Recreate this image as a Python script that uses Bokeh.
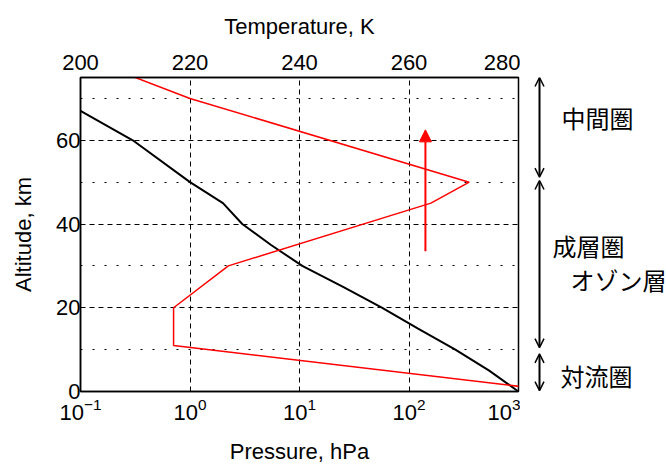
from bokeh.plotting import figure
from bokeh.layouts import row
from bokeh.models import (Range1d, LinearScale, LinearAxis, FixedTicker, Label,
                          Arrow, NormalHead, OpenHead)
from bokeh.embed import file_html
from bokeh.resources import INLINE

# ---- data ----
# pressure profile (black): altitude km vs pressure hPa
p_alt = [0, 5, 10, 15, 20, 25, 30, 35, 40, 45, 50, 60, 67]
p_hpa = [1000, 540, 265, 121, 57, 25, 10.6, 5.5, 3.0, 2.0, 1.0, 0.3, 0.1]
# temperature profile (red): altitude km vs temperature K
t_alt = [0, 11, 20, 30, 45, 50, 70, 80]
t_k = [288, 217, 217, 227, 264, 271, 220, 200]

x_ticks = [0.1, 1, 10, 100, 1000]
t_ticks = [200, 220, 240, 260, 280]
y_ticks = [0, 20, 40, 60]
y_minor = [10, 30, 50, 70]

layers = ["中間圏", "成層圏", "対流圏"]
layer_ranges = [(51.2, 75.0), (10.5, 50.4), (0.2, 9.0)]
layer_label_alt = [65.4, 34.8, 3.8]
layer_label_x = [41, 32, 40]
ozone_label = "オゾン層"
ozone_alt = 26.7
ozone_arrow = (33.5, 62.5)
ozone_arrow_t = 263

FONT = "Liberation Sans"
JFONT = "Noto Sans CJK JP"

p = figure(width=520, height=468, x_axis_type="log",
           x_range=Range1d(0.1, 1000), y_range=Range1d(0, 75),
           output_backend="svg", toolbar_location=None,
           min_border_left=80, min_border_right=2, min_border_top=77,
           min_border_bottom=77)
p.frame_width = 438
p.frame_height = 314
p.background_fill_color = "white"
p.border_fill_color = "white"
p.outline_line_color = "black"
p.outline_line_width = 1.5

p.extra_x_ranges = {"temp": Range1d(200, 280)}
p.extra_x_scales = {"temp": LinearScale()}

xa = p.xaxis[0]
xa.ticker = FixedTicker(ticks=x_ticks)
xa.axis_label = "Pressure, hPa"
ya = p.yaxis[0]
ya.ticker = FixedTicker(ticks=y_ticks)
ya.axis_label = "Altitude, km"

top = LinearAxis(x_range_name="temp", ticker=FixedTicker(ticks=t_ticks),
                 axis_label="Temperature, K")
p.add_layout(top, "above")

for ax in [xa, ya, top]:
    ax.major_tick_out = 0
    ax.major_tick_in = 0
    ax.minor_tick_out = 0
    ax.minor_tick_in = 0
    ax.axis_line_color = "black"
    ax.axis_line_width = 1.5
    ax.major_label_text_font = FONT
    ax.major_label_text_font_size = "22px"
    ax.major_label_text_color = "black"
    ax.axis_label_text_font = FONT
    ax.axis_label_text_font_size = "22px"
    ax.axis_label_text_font_style = "normal"
    ax.axis_label_text_color = "black"
    ax.major_label_standoff = 0
xa.major_label_standoff = 6
xa.axis_label_standoff = 16
ya.axis_label_standoff = 17
top.major_label_standoff = 8
top.axis_label_standoff = 13

p.xgrid.ticker = FixedTicker(ticks=[1, 10, 100])
p.xgrid.grid_line_color = "black"
p.xgrid.grid_line_dash = "5 4"
p.xgrid.grid_line_width = 1
p.ygrid.ticker = FixedTicker(ticks=[20, 40, 60], minor_ticks=y_minor)
p.ygrid.grid_line_color = "black"
p.ygrid.grid_line_dash = "5 4"
p.ygrid.grid_line_width = 1
p.ygrid.minor_grid_line_color = "black"
p.ygrid.minor_grid_line_dash = "2 10"
p.ygrid.minor_grid_line_width = 1

p.line(p_hpa, p_alt, line_color="black", line_width=2)
p.line(t_k, t_alt, line_color="red", line_width=1.5, x_range_name="temp")

p.add_layout(Arrow(x_start=ozone_arrow_t, y_start=ozone_arrow[0],
                   x_end=ozone_arrow_t, y_end=ozone_arrow[1],
                   x_range_name="temp", line_color="red", line_width=2,
                   end=NormalHead(size=12, fill_color="red", line_color="red")))

# right-hand annotation panel sharing the altitude range
p2 = figure(width=146, height=468, x_range=Range1d(0, 146), y_range=p.y_range,
            output_backend="svg", toolbar_location=None,
            x_axis_location=None, y_axis_location=None,
            min_border_left=0, min_border_right=0, min_border_top=77,
            min_border_bottom=77)
p2.frame_width = 146
p2.frame_height = 314
p2.outline_line_color = None
p2.grid.visible = False
p2.background_fill_color = "white"
p2.border_fill_color = "white"

for name, (lo, hi), la, lx in zip(layers, layer_ranges, layer_label_alt, layer_label_x):
    p2.add_layout(Arrow(x_start=19, y_start=lo, x_end=19, y_end=hi,
                        line_color="black", line_width=2,
                        start=OpenHead(size=9, line_width=1.5),
                        end=OpenHead(size=9, line_width=1.5)))
    p2.add_layout(Label(x=lx, y=la, text=name,
                        text_font=JFONT, text_font_size="24px",
                        text_baseline="middle", text_align="left",
                        text_color="black"))
p2.add_layout(Label(x=50, y=ozone_alt, text=ozone_label,
                    text_font=JFONT, text_font_size="24px",
                    text_baseline="middle", text_align="left",
                    text_color="black"))

layout = row(p, p2)
open("out.html", "w").write(file_html(layout, INLINE))
